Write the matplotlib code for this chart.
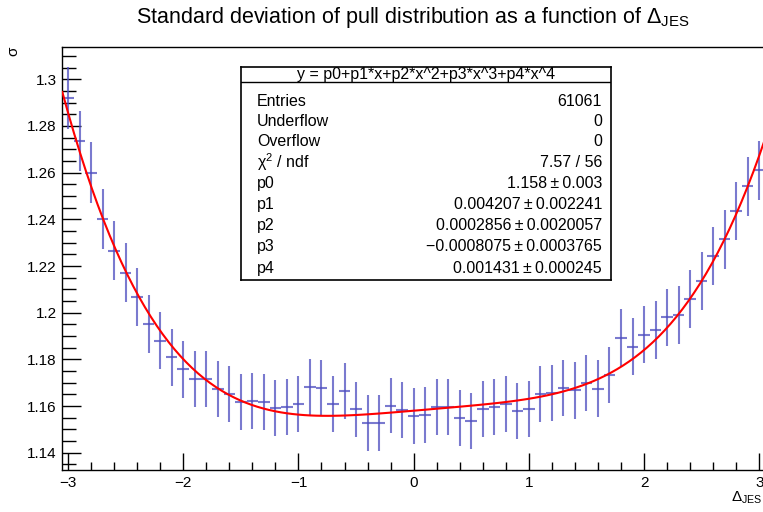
import numpy as np
import matplotlib.pyplot as plt
from matplotlib.ticker import MultipleLocator, FuncFormatter

plt.rcParams['font.family'] = ['Liberation Sans', 'DejaVu Sans']
plt.rcParams['mathtext.fontset'] = 'custom'
plt.rcParams['mathtext.rm'] = 'Liberation Sans'
plt.rcParams['mathtext.it'] = 'Liberation Sans:italic'

# Bin centres (61 bins of width 0.1 from -3.05 to 3.05)
delta_jes = np.linspace(-3.0, 3.0, 61)
half_bin = 0.05

# Standard deviation of the pull in each bin
sigma = [1.2919, 1.2736, 1.2600, 1.2400, 1.2266, 1.2171, 1.2066, 1.1950, 1.1879, 1.1809,
         1.1757, 1.1716, 1.1715, 1.1675, 1.1652, 1.1619, 1.1622, 1.1619, 1.1592, 1.1595,
         1.1609, 1.1681, 1.1678, 1.1609, 1.1665, 1.1586, 1.1526, 1.1526, 1.1602, 1.1582,
         1.1557, 1.1562, 1.1595, 1.1597, 1.1548, 1.1537, 1.1588, 1.1596, 1.1609, 1.1578,
         1.1587, 1.1650, 1.1656, 1.1677, 1.1667, 1.1699, 1.1675, 1.1734, 1.1893, 1.1854,
         1.1906, 1.1926, 1.1980, 1.1990, 1.2057, 1.2136, 1.2243, 1.2314, 1.2436, 1.2542,
         1.2610]

sigma_err = [0.0134, 0.0130, 0.0132, 0.0129, 0.0128, 0.0126, 0.0124, 0.0124, 0.0122, 0.0122,
             0.0121, 0.0120, 0.0121, 0.0120, 0.0119, 0.0120, 0.0120, 0.0120, 0.0119, 0.0119,
             0.0119, 0.0119, 0.0119, 0.0120, 0.0119, 0.0119, 0.0120, 0.0120, 0.0119, 0.0119,
             0.0119, 0.0119, 0.0120, 0.0120, 0.0120, 0.0120, 0.0120, 0.0120, 0.0120, 0.0120,
             0.0120, 0.0120, 0.0120, 0.0120, 0.0121, 0.0121, 0.0121, 0.0121, 0.0122, 0.0122,
             0.0123, 0.0123, 0.0123, 0.0124, 0.0124, 0.0124, 0.0125, 0.0125, 0.0126, 0.0127,
             0.0127]

# Fit parameters p0..p4 from the stats box
fit_params = [1.158, 0.004207, 0.0002856, -0.0008075, 0.001431]

stats_labels = ['Entries', 'Underflow', 'Overflow', r'χ$^2$ / ndf', 'p0', 'p1', 'p2', 'p3', 'p4']
stats_values = ['61061', '0', '0', '7.57 / 56',
                '1.158\u2009±\u20090.003',
                '0.004207\u2009±\u20090.002241',
                '0.0002856\u2009±\u20090.0020057',
                '−0.0008075\u2009±\u20090.0003765',
                '0.001431\u2009±\u20090.000245']

W, H = 763, 512
fig = plt.figure(figsize=(W / 100, H / 100), dpi=100)
ax = fig.add_axes([62.3 / W, 42 / H, 702.7 / W, 423 / H])

# Points with error bars
ax.errorbar(delta_jes, sigma, xerr=half_bin, yerr=sigma_err, fmt='none',
            ecolor=(0.3, 0.3, 0.75), elinewidth=1.5, alpha=0.75, capsize=0, zorder=2)

# Fit curve
xf = np.linspace(-3.05, 3.05, 120)
yf = sum(p * xf ** k for k, p in enumerate(fit_params))
ax.plot(xf, yf, color='#ff0000', lw=1.5, zorder=3)

ax.set_xlim(-3.05, 3.05)
ax.set_ylim(1.13259, 1.31384)

ax.xaxis.set_major_locator(MultipleLocator(1))
ax.xaxis.set_minor_locator(MultipleLocator(0.2))
ax.yaxis.set_major_locator(MultipleLocator(0.02))
ax.yaxis.set_minor_locator(MultipleLocator(0.005))
ax.yaxis.set_major_formatter(FuncFormatter(lambda v, p: '%g' % round(v, 3)))
ax.xaxis.set_major_formatter(FuncFormatter(lambda v, p: ('%g' % v).replace('-', '−')))

ax.tick_params(axis='both', which='both', direction='in', top=False, right=False,
               labelsize=11, width=1)
ax.tick_params(axis='y', which='major', length=14, pad=4)
ax.tick_params(axis='y', which='minor', length=10)
ax.tick_params(axis='x', which='major', length=12, pad=4)
ax.tick_params(axis='x', which='minor', length=6)
for s in ax.spines.values():
    s.set_linewidth(1)

# Titles
fig.text(413 / W, 1 - 17 / H, r'Standard deviation of pull distribution as a function of $\Delta_{\mathrm{JES}}$',
         ha='center', va='center', fontsize=15.5)
fig.text(13 / W, 1 - 51 / H, 'σ', rotation=90, ha='center', va='center', fontsize=11)
fig.text(762 / W, 1 - 498 / H, r'$\Delta_{\mathrm{JES}}$', ha='right', va='center', fontsize=11)

# Stats box
bx0, bx1, by0, by1 = 241, 611, 67, 280
box = fig.add_axes([bx0 / W, 1 - by1 / H, (bx1 - bx0) / W, (by1 - by0) / H])
box.set_xlim(bx0, bx1)
box.set_ylim(by1, by0)
box.set_xticks([])
box.set_yticks([])
for s in box.spines.values():
    s.set_linewidth(1.2)
box.axhline(82, color='black', lw=1)
box.text((bx0 + bx1) / 2, 75, 'y = p0+p1*x+p2*x^2+p3*x^3+p4*x^4', ha='center', va='center', fontsize=11.5)
rows_y = [101.7, 121, 141.7, 162.3, 183.3, 204.3, 225.7, 246.7, 268.3]
for yy, lab, val in zip(rows_y, stats_labels, stats_values):
    box.text(257, yy, lab, ha='left', va='center', fontsize=11.5)
    box.text(602, yy, val, ha='right', va='center', fontsize=11.5)

plt.savefig('out.png', dpi=100)
